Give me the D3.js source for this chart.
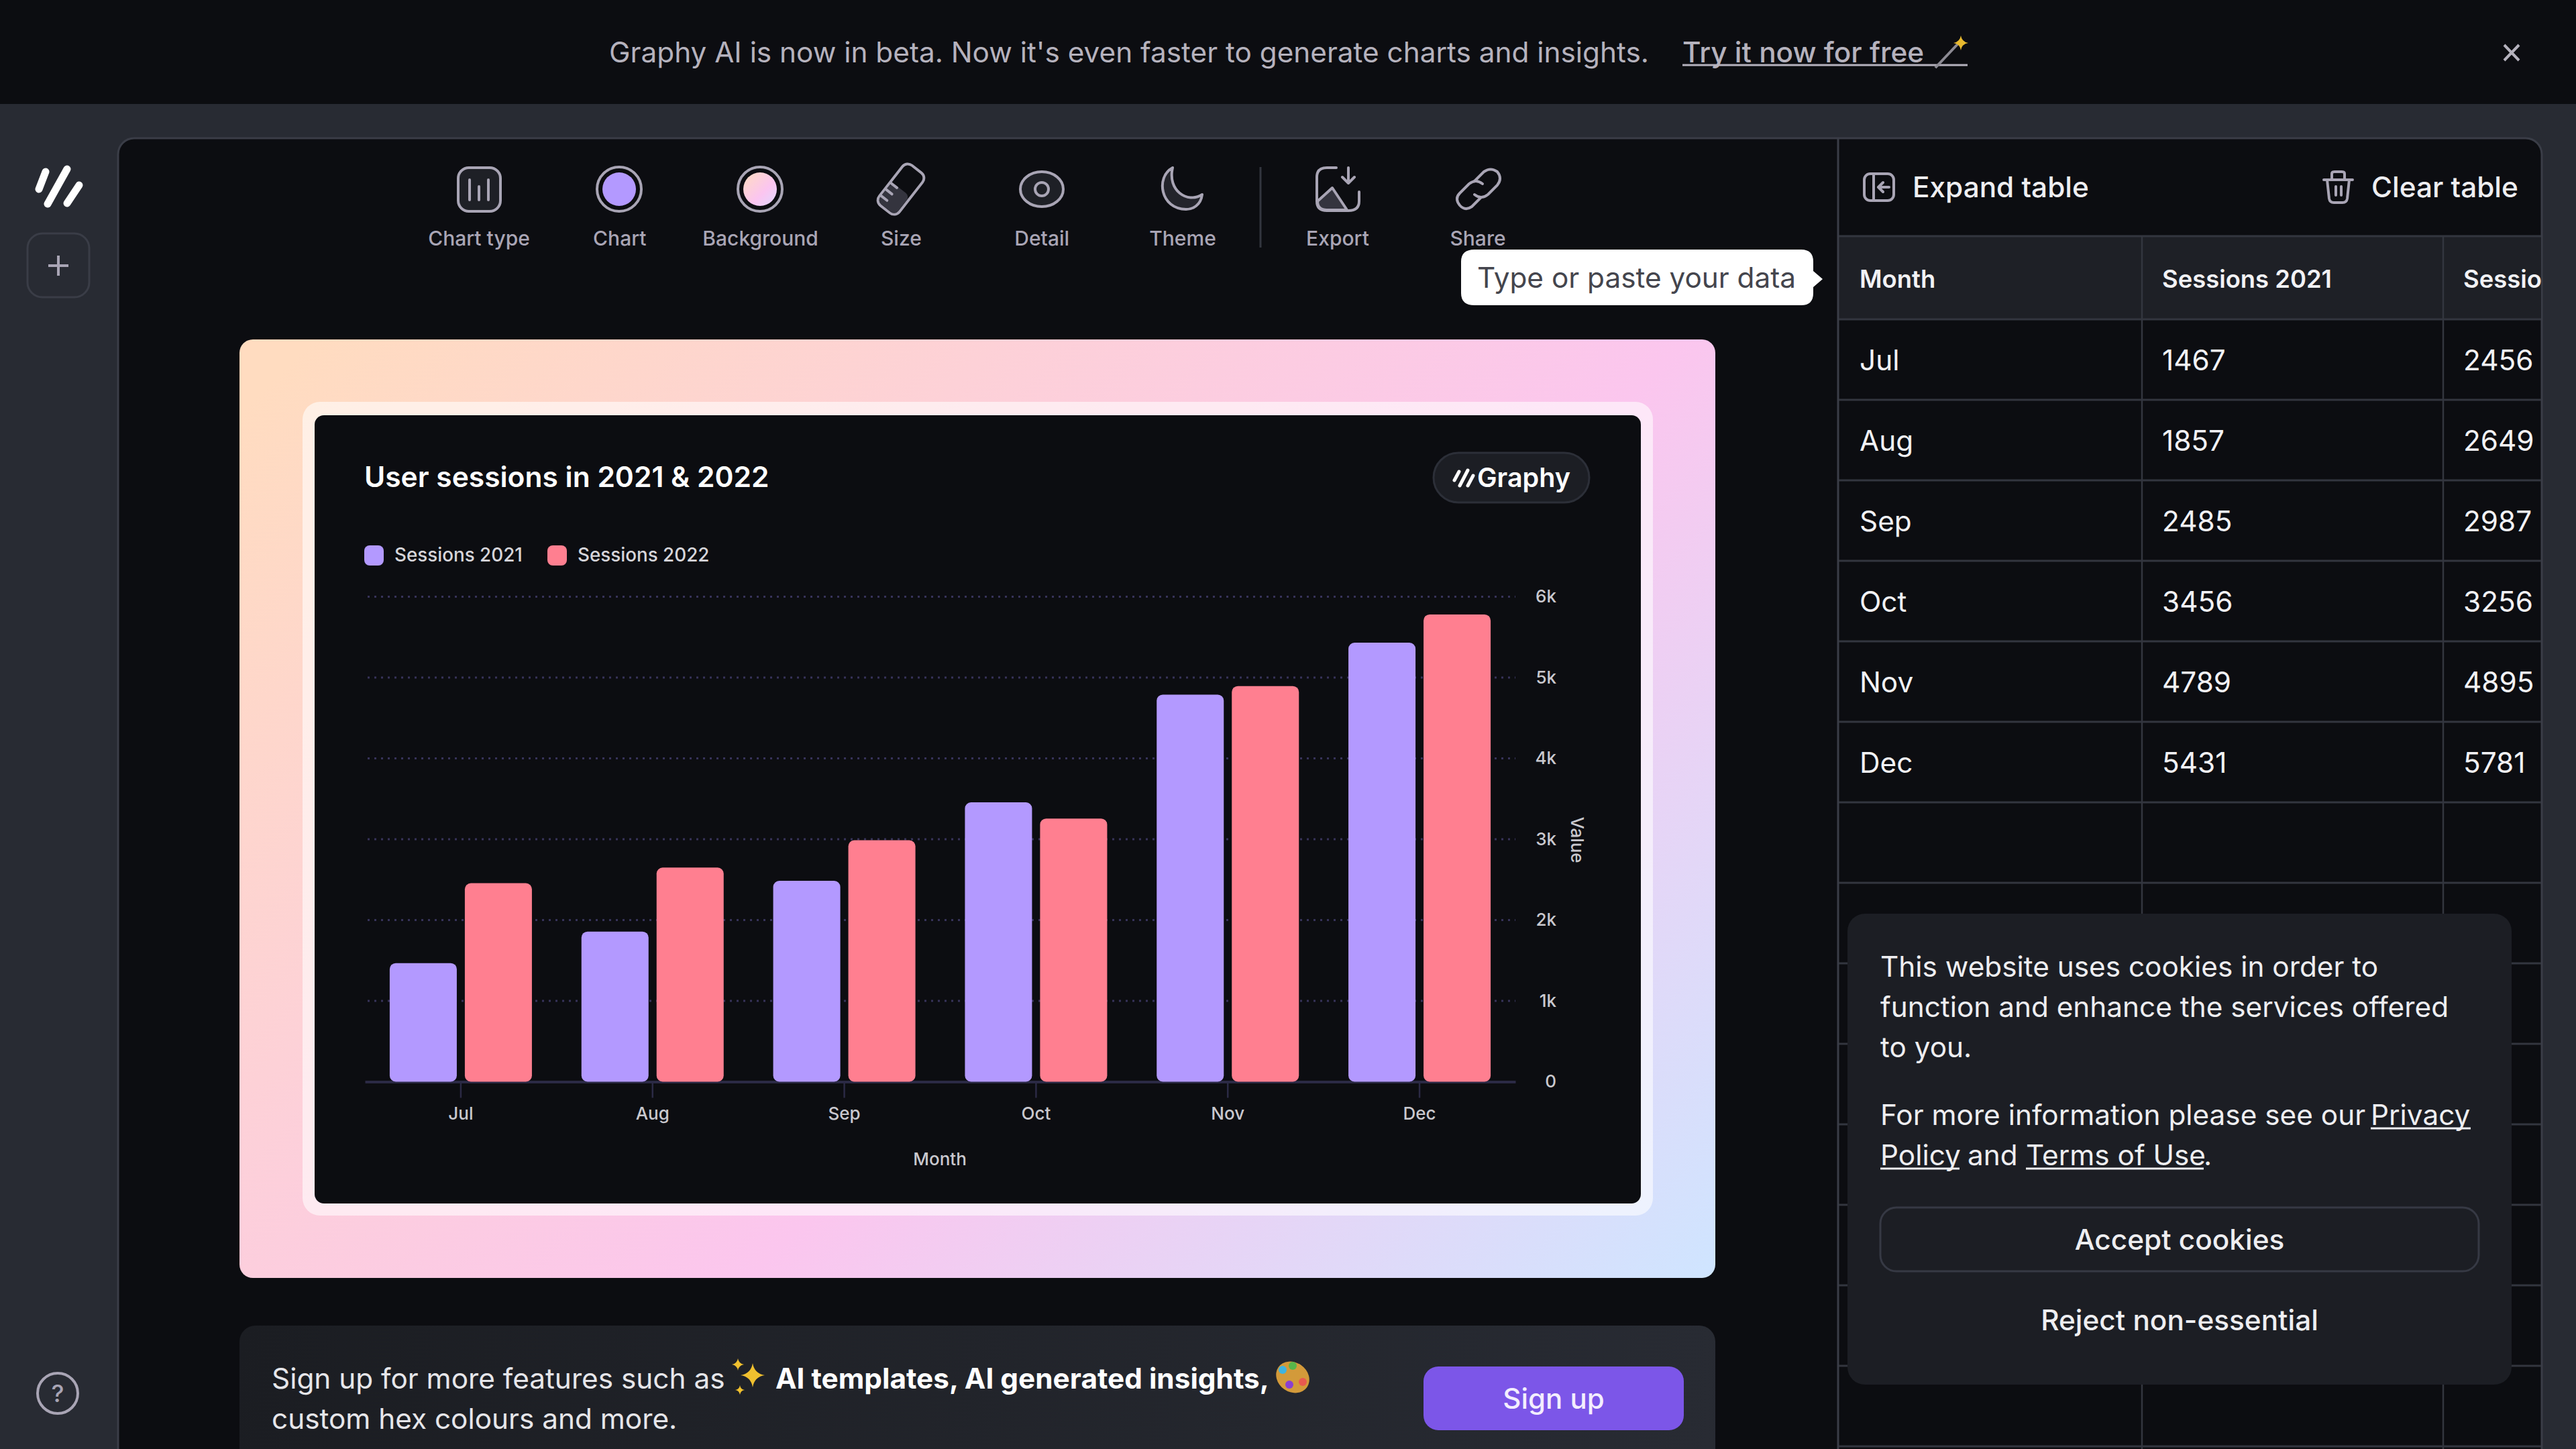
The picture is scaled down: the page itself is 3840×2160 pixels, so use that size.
<!DOCTYPE html>
<html>
<head>
<meta charset="utf-8">
<style>
  html, body { margin: 0; padding: 0; background: #0c0d11; }
  svg { display: block; }
  text { font-family: Inter, "Noto Sans", sans-serif; }
</style>
<script src="https://cdn.jsdelivr.net/npm/d3@7"></script>
</head>
<body>
<div id="chart"></div>
<script>
const months = ['Jul', 'Aug', 'Sep', 'Oct', 'Nov', 'Dec'];
const sessions2021 = [1467, 1857, 2485, 3456, 4789, 5431];
const sessions2022 = [2456, 2649, 2987, 3256, 4895, 5781];
const seriesNames = ['Sessions 2021', 'Sessions 2022'];
const seriesColors = ['#b399ff', '#ff7f90'];
const valueTicks = [0, 1000, 2000, 3000, 4000, 5000, 6000];
const tableHeaders = ['Month', 'Sessions 2021', 'Sessions 2022'];
const toolsLeft = ['Chart type', 'Chart', 'Background', 'Size', 'Detail', 'Theme'];
const toolsRight = ['Export', 'Share'];
const cookieLines = ['This website uses cookies in order to', 'function and enhance the services offered', 'to you.'];

const BG = '#0c0d11';
const APP = '#282b33';
const PANEL = '#1c1e24';
const LINE = '#33363f';
const ICON = '#a9a5b5';
const BODY_SIZE = 42.3;
const AXIS_SIZE = 26;

const svg = d3.select('#chart').append('svg').attr('width', 3840).attr('height', 2160);
const defs = svg.append('defs');

function label(g, x, y, str, size, fill, weight, anchor) {
  return g.append('text')
    .attr('x', x).attr('y', y).attr('dy', '0.36em')
    .attr('font-size', size).attr('fill', fill)
    .attr('font-weight', weight || 400)
    .attr('text-anchor', anchor || 'start')
    .text(str);
}

function box(g, x, y, w, h, r, fill, stroke, strokeWidth) {
  return g.append('rect')
    .attr('x', x).attr('y', y).attr('width', w).attr('height', h).attr('rx', r)
    .attr('fill', fill).attr('stroke', stroke || 'none').attr('stroke-width', strokeWidth || 0);
}

function sketch(g, d, fill) {
  return g.append('path').attr('d', d)
    .attr('fill', fill || 'none').attr('stroke', ICON).attr('stroke-width', 4)
    .attr('stroke-linecap', 'round').attr('stroke-linejoin', 'round');
}

function underline(g, x1, x2, y, color) {
  g.append('line').attr('x1', x1).attr('x2', x2).attr('y1', y).attr('y2', y)
    .attr('stroke', color).attr('stroke-width', 3);
}

function sparkle(g, cx, cy, r, fill) {
  const k = r * 0.14;
  g.append('path')
    .attr('d', `M${cx},${cy - r}Q${cx + k},${cy - k} ${cx + r},${cy}Q${cx + k},${cy + k} ${cx},${cy + r}Q${cx - k},${cy + k} ${cx - r},${cy}Q${cx - k},${cy - k} ${cx},${cy - r}Z`)
    .attr('fill', fill);
}

// gradients
const cardGrad = defs.append('linearGradient').attr('id', 'cardGrad')
  .attr('gradientUnits', 'userSpaceOnUse')
  .attr('x1', 357).attr('y1', 506).attr('x2', 2157).attr('y2', 2306);
[[0.03, '#ffdcc0'], [0.6, '#fbc6ee'], [1, '#cfe5ff']].forEach(s => {
  cardGrad.append('stop').attr('offset', s[0]).attr('stop-color', s[1]);
});
const bgSwatch = defs.append('linearGradient').attr('id', 'bgSwatch')
  .attr('x1', 0).attr('y1', 0).attr('x2', 1).attr('y2', 1);
[[0, '#ffdcbf'], [0.6, '#fbc5f0'], [1, '#e0d8ff']].forEach(s => {
  bgSwatch.append('stop').attr('offset', s[0]).attr('stop-color', s[1]);
});
const signGrad = defs.append('linearGradient').attr('id', 'signGrad')
  .attr('gradientUnits', 'userSpaceOnUse')
  .attr('x1', 357).attr('y1', 1976).attr('x2', 2557).attr('y2', 2160);
[[0, '#1b1d22'], [1, '#282b33']].forEach(s => {
  signGrad.append('stop').attr('offset', s[0]).attr('stop-color', s[1]);
});
defs.append('clipPath').attr('id', 'tableClip').append('rect')
  .attr('x', 2740).attr('y', 206).attr('width', 1048).attr('height', 1954);

// page shell
svg.append('rect').attr('width', 3840).attr('height', 2160).attr('fill', APP);
svg.append('rect').attr('width', 3840).attr('height', 155).attr('fill', BG);
box(svg, 176, 206, 3613, 2100, 24, BG, '#3a3d47', 3);

// banner
const banner = svg.append('g');
label(banner, 908, 78, "Graphy AI is now in beta. Now it's even faster to generate charts and insights.", BODY_SIZE, '#b5b2bd');
label(banner, 2508, 78, 'Try it now for free', BODY_SIZE, '#b5b2bd', 500);
underline(banner, 2508, 2933, 97, '#b5b2bd');
banner.append('line').attr('x1', 2885).attr('y1', 101).attr('x2', 2918).attr('y2', 66)
  .attr('stroke', '#8c8a93').attr('stroke-width', 4);
sparkle(banner, 2923, 64, 11, '#e8b92f');
banner.append('path').attr('d', 'M3733,67L3755,90M3755,67L3733,90')
  .attr('stroke', '#b5b2bd').attr('stroke-width', 4).attr('fill', 'none');

// left rail
const rail = svg.append('g');
[[68, 256, 58, 282], [100, 252, 71, 304], [118, 276, 100, 303]].forEach(s => {
  rail.append('line').attr('x1', s[0]).attr('y1', s[1]).attr('x2', s[2]).attr('y2', s[3])
    .attr('stroke', '#ffffff').attr('stroke-width', 11).attr('stroke-linecap', 'round');
});
box(rail, 41, 348, 92, 95, 22, 'none', '#3a3d47', 3);
rail.append('path').attr('d', 'M87,381V411M72,396H102').attr('stroke', ICON).attr('stroke-width', 4);
rail.append('circle').attr('cx', 86).attr('cy', 2077).attr('r', 30)
  .attr('fill', 'none').attr('stroke', ICON).attr('stroke-width', 4);
label(rail, 86, 2077, '?', 36, ICON, 500, 'middle');

// toolbar
const toolbar = svg.append('g');
const toolX = d3.scalePoint().domain(toolsLeft).range([714, 1763]);
const shareX = d3.scalePoint().domain(toolsRight).range([1994, 2203]);
toolsLeft.forEach(t => label(toolbar, toolX(t), 355, t, 30, ICON, 500, 'middle'));
toolsRight.forEach(t => label(toolbar, shareX(t), 355, t, 30, ICON, 500, 'middle'));
toolbar.append('line').attr('x1', 1879).attr('x2', 1879).attr('y1', 249).attr('y2', 369)
  .attr('stroke', LINE).attr('stroke-width', 3);

// chart type icon
box(toolbar, 683, 250, 63, 65, 16, '#1e2026', ICON, 4);
sketch(toolbar, 'M700,268V298M714,278V298M728,268V298');
// colour swatches
[[923, seriesColors[0]], [1133, 'url(#bgSwatch)']].forEach(s => {
  toolbar.append('circle').attr('cx', s[0]).attr('cy', 282).attr('r', 33)
    .attr('fill', 'none').attr('stroke', ICON).attr('stroke-width', 4);
  toolbar.append('circle').attr('cx', s[0]).attr('cy', 282).attr('r', 25).attr('fill', s[1]);
});
// ruler
const ruler = toolbar.append('g').attr('transform', 'translate(1343,282) rotate(38)');
box(ruler, -19, -38, 38, 76, 10, 'none', ICON, 4);
box(ruler, -17, 0, 34, 36, 8, '#34343e');
sketch(ruler, 'M-18,2H-6M-18,14H-6M-18,26H-6');
// eye
toolbar.append('ellipse').attr('cx', 1553).attr('cy', 282).attr('rx', 32).attr('ry', 26)
  .attr('fill', '#1e2026').attr('stroke', ICON).attr('stroke-width', 4);
toolbar.append('circle').attr('cx', 1553).attr('cy', 282).attr('r', 10)
  .attr('fill', 'none').attr('stroke', ICON).attr('stroke-width', 4);
// moon
sketch(toolbar, 'M1748,250C1722,264 1730,312 1768,312C1778,312 1790,306 1792,290C1770,304 1740,284 1748,250Z', '#23242b');
// export
sketch(toolbar, 'M1992,250H1978Q1963,250 1963,264V300Q1963,314 1978,314H2010Q2026,314 2026,300V286');
sketch(toolbar, 'M2010,250V272M2001,264L2010,273L2019,264');
sketch(toolbar, 'M1964,300L1986,280L2008,313H1978Q1964,313 1964,300Z', '#34343e');
// share
sketch(toolbar, 'M2198,270L2212,256Q2222,249 2232,256Q2240,266 2232,276L2218,290Q2208,298 2198,290');
sketch(toolbar, 'M2208,294L2194,308Q2184,315 2176,306Q2168,296 2176,288L2190,274Q2200,266 2210,274');

// tooltip
const tip = svg.append('g');
tip.append('path')
  .attr('d', 'M2198,372H2685Q2703,372 2703,390V404L2717,416L2703,428V437Q2703,455 2685,455H2198Q2178,455 2178,437V390Q2178,372 2198,372Z')
  .attr('fill', '#ffffff');
label(tip, 2202, 414, 'Type or paste your data', BODY_SIZE, '#44454d');

// gradient card and frame
box(svg, 357, 506, 2200, 1399, 20, 'url(#cardGrad)');
box(svg, 451, 599, 2013, 1213, 26, '#ffffff').attr('fill-opacity', 0.58);
box(svg, 469, 619, 1977, 1175, 14, BG);

// chart
const chartArea = svg.append('g');
label(chartArea, 543, 711, 'User sessions in 2021 & 2022', 42.5, '#ffffff', 600);

const legend = chartArea.append('g');
const legendX = [543, 816];
seriesNames.forEach((s, i) => {
  box(legend, legendX[i], 813, 29, 30, 8, seriesColors[i]);
  label(legend, legendX[i] + 45, 827, s, 27.8, '#d6d5da', 500);
});

// graphy badge
box(chartArea, 2137, 675, 232, 74, 37, PANEL, '#2c2f38', 3);
[[2175, 703, 2168, 716], [2188, 701, 2176, 724], [2196, 709, 2188, 724]].forEach(s => {
  chartArea.append('line').attr('x1', s[0]).attr('y1', s[1]).attr('x2', s[2]).attr('y2', s[3])
    .attr('stroke', '#ffffff').attr('stroke-width', 5).attr('stroke-linecap', 'round');
});
label(chartArea, 2202, 712, 'Graphy', 39.5, '#ffffff', 600);

const x0 = d3.scaleBand().domain(months).range([544, 2259]);
const x1 = d3.scaleBand().domain(seriesNames)
  .range([x0.bandwidth() / 2 - 106, x0.bandwidth() / 2 + 106]).paddingInner(0.107);
const y = d3.scaleLinear().domain([0, 6000]).range([1612.5, 889.5]);

// gridlines come first, bars sit on top
chartArea.append('g').selectAll('line')
  .data(valueTicks.filter(d => d > 0))
  .join('line')
  .attr('x1', 548).attr('x2', 2259)
  .attr('y1', d => y(d)).attr('y2', d => y(d))
  .attr('stroke', '#37335a').attr('stroke-width', 3).attr('stroke-dasharray', '3 7');

const yAxis = chartArea.append('g').attr('transform', 'translate(2320,0)')
  .call(d3.axisLeft(y).tickValues(valueTicks).tickSize(0).tickPadding(0)
    .tickFormat(d => (d === 0 ? '0' : (d / 1000) + 'k')));
yAxis.select('.domain').remove();
yAxis.selectAll('text').attr('font-size', AXIS_SIZE).attr('font-weight', 500)
  .attr('fill', '#c9c8ce').attr('font-family', null);

const xAxis = chartArea.append('g').attr('transform', `translate(0,${y(0)})`)
  .call(d3.axisBottom(x0).tickSizeInner(24).tickSizeOuter(0).tickPadding(14));
xAxis.select('.domain').attr('stroke', '#2b2a45').attr('stroke-width', 4);
xAxis.selectAll('.tick line').attr('stroke', '#2b2a45').attr('stroke-width', 2.5);
xAxis.selectAll('text').attr('font-size', AXIS_SIZE).attr('font-weight', 500)
  .attr('fill', '#c9c8ce').attr('font-family', null);

const bars = chartArea.append('g');
[sessions2021, sessions2022].forEach((values, i) => {
  bars.append('g').selectAll('rect')
    .data(values)
    .join('rect')
    .attr('x', (d, j) => x0(months[j]) + x1(seriesNames[i]))
    .attr('y', d => y(d))
    .attr('width', x1.bandwidth())
    .attr('height', d => y(0) - y(d))
    .attr('rx', 9)
    .attr('fill', seriesColors[i]);
});

label(chartArea, 1401, 1728, 'Month', AXIS_SIZE, '#c9c8ce', 500, 'middle');
chartArea.append('text')
  .attr('transform', 'translate(2351,1252) rotate(90)')
  .attr('text-anchor', 'middle').attr('dy', '0.36em')
  .attr('font-size', AXIS_SIZE).attr('font-weight', 500).attr('fill', '#c9c8ce')
  .text('Value');

// sign up card
const signUp = svg.append('g');
box(signUp, 357, 1976, 2200, 260, 24, 'url(#signGrad)');
label(signUp, 405, 2055, 'Sign up for more features such as', BODY_SIZE, '#e6e6ea');
sparkle(signUp, 1122, 2050, 18, '#f0c02f');
sparkle(signUp, 1100, 2034, 9, '#f0c02f');
sparkle(signUp, 1103, 2072, 7, '#f0c02f');
label(signUp, 1156, 2055, 'AI templates, AI generated insights,', BODY_SIZE, '#ffffff', 700);
signUp.append('ellipse').attr('cx', 1927).attr('cy', 2053).attr('rx', 26).attr('ry', 22)
  .attr('transform', 'rotate(35 1927 2053)').attr('fill', '#d39a3a');
[[1912, 2042, '#3fb4e0'], [1927, 2036, '#58b54a'], [1922, 2064, '#8a3fd0'], [1942, 2060, '#e85a4f']].forEach(s => {
  signUp.append('circle').attr('cx', s[0]).attr('cy', s[1]).attr('r', 6).attr('fill', s[2]);
});
label(signUp, 405, 2115, 'custom hex colours and more.', BODY_SIZE, '#e6e6ea');
box(signUp, 2122, 2037, 388, 95, 22, '#7c56e8');
label(signUp, 2316, 2085, 'Sign up', 42, '#f3eefe', 500, 'middle');

// data table panel
const panel = svg.append('g').attr('clip-path', 'url(#tableClip)');
svg.append('line').attr('x1', 2740).attr('x2', 2740).attr('y1', 206).attr('y2', 2160)
  .attr('stroke', '#3a3d47').attr('stroke-width', 3);

box(panel, 2779, 259, 44, 40, 9, 'none', ICON, 4);
sketch(panel, 'M2793,259V299M2816,279H2801M2807,272L2800,279L2807,286');
label(panel, 2851, 279, 'Expand table', BODY_SIZE, '#eeeef1', 500);
sketch(panel, 'M3464,268H3507M3476,268V259Q3476,256 3480,256H3491Q3495,256 3495,259V268M3469,268L3472,296Q3473,302 3479,302H3492Q3498,302 3499,296L3502,268M3482,278V291M3490,278V291');
label(panel, 3535, 279, 'Clear table', BODY_SIZE, '#eeeef1', 500);

const colX = [2742, 3193, 3642];
const rowTop = 476;
const rowStep = 120;
panel.append('rect').attr('x', 2740).attr('y', 352).attr('width', 1049).attr('height', rowTop - 352).attr('fill', '#1e2026');

// 15 horizontal rules, the grid runs past the bottom of the page
const rules = [352].concat(d3.range(0, 15).map(i => rowTop + i * rowStep));
panel.append('g').selectAll('line').data(rules).join('line')
  .attr('x1', 2740).attr('x2', 3789).attr('y1', d => d).attr('y2', d => d)
  .attr('stroke', LINE).attr('stroke-width', 3);
panel.append('g').selectAll('line').data([3193, 3642]).join('line')
  .attr('x1', d => d).attr('x2', d => d).attr('y1', 352).attr('y2', 2160)
  .attr('stroke', LINE).attr('stroke-width', 2.5);

tableHeaders.forEach((h, i) => {
  label(panel, colX[i] + 30, 416, h, 36.4, '#f2f2f5', 600);
});
months.forEach((m, i) => {
  const cy = rowTop + i * rowStep + 61;
  label(panel, colX[0] + 30, cy, m, BODY_SIZE, '#f2f2f5');
  label(panel, colX[1] + 30, cy, sessions2021[i], BODY_SIZE, '#f2f2f5');
  label(panel, colX[2] + 30, cy, sessions2022[i], BODY_SIZE, '#f2f2f5');
});

// cookie notice
const cookie = svg.append('g');
box(cookie, 2754, 1362, 990, 702, 26, PANEL);
cookieLines.forEach((l, i) => label(cookie, 2803, 1441 + i * 60, l, BODY_SIZE, '#eeeef1'));
label(cookie, 2803, 1662, 'For more information please see our', BODY_SIZE, '#eeeef1');
label(cookie, 3534, 1662, 'Privacy', BODY_SIZE, '#eeeef1');
underline(cookie, 3534, 3683, 1682, '#eeeef1');
label(cookie, 2803, 1722, 'Policy', BODY_SIZE, '#eeeef1');
underline(cookie, 2803, 2921, 1742, '#eeeef1');
label(cookie, 2933, 1722, 'and', BODY_SIZE, '#eeeef1');
label(cookie, 3020, 1722, 'Terms of Use', BODY_SIZE, '#eeeef1');
underline(cookie, 3020, 3285, 1742, '#eeeef1');
label(cookie, 3285, 1722, '.', BODY_SIZE, '#eeeef1');
box(cookie, 2803, 1800, 892, 95, 24, 'none', '#363944', 3);
label(cookie, 3249, 1848, 'Accept cookies', BODY_SIZE, '#eeeef1', 500, 'middle');
label(cookie, 3249, 1968, 'Reject non-essential', BODY_SIZE, '#eeeef1', 500, 'middle');
</script>
</body>
</html>
